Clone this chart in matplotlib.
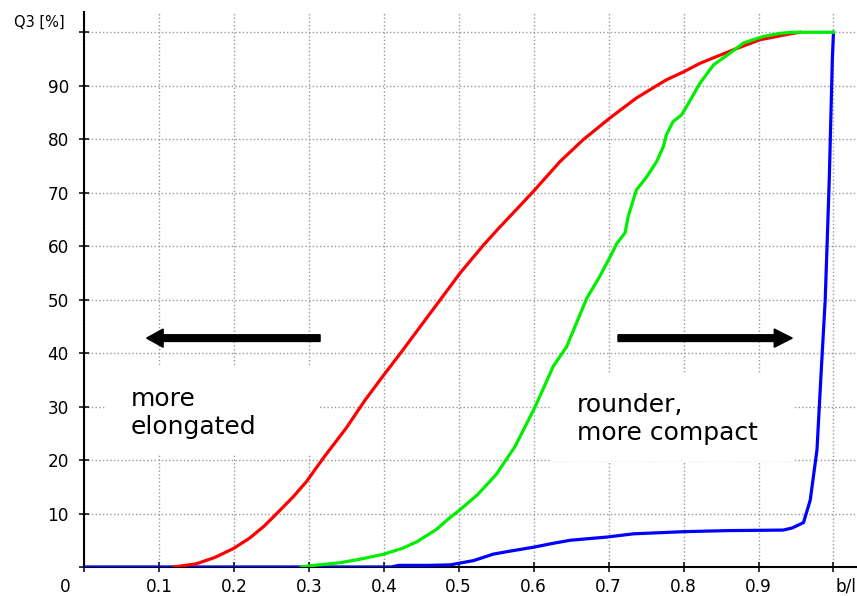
import matplotlib
matplotlib.use("Agg")
import matplotlib.pyplot as plt
from matplotlib.patches import Rectangle

plt.rcParams.update({
    "font.family": "DejaVu Sans",
    "font.size": 12.2,
    "axes.linewidth": 1.5,
})

# ── data (b/l ratio vs cumulative Q3 in %) ────────────────────────────────
RED_X = [0.12, 0.15, 0.175, 0.2, 0.221, 0.24, 0.253, 0.279, 0.297, 0.32, 0.35,
         0.375, 0.4, 0.424, 0.45, 0.475, 0.502, 0.533, 0.555, 0.58, 0.6, 0.635,
         0.666, 0.702, 0.737, 0.777, 0.8, 0.822, 0.866, 0.902, 0.942, 0.955]
RED_Y = [0.0, 0.6, 1.8, 3.5, 5.4, 7.6, 9.4, 13.1, 16.0, 20.5, 26.0,
         31.2, 35.9, 40.3, 45.2, 49.9, 55.0, 60.2, 63.6, 67.3, 70.3, 75.8,
         79.9, 84.0, 87.7, 91.1, 92.6, 94.2, 96.7, 98.6, 99.7, 100.0]

GREEN_X = [0.29, 0.30, 0.342, 0.37, 0.4, 0.425, 0.444, 0.47, 0.488, 0.5, 0.525,
           0.55, 0.575, 0.6, 0.606, 0.626, 0.644, 0.657, 0.671, 0.688, 0.702,
           0.711, 0.722, 0.726, 0.737, 0.751, 0.764, 0.773, 0.777, 0.786, 0.797,
           0.804, 0.822, 0.84, 0.862, 0.88, 0.906, 0.929, 0.945, 1.0]
GREEN_Y = [0.0, 0.2, 0.8, 1.5, 2.4, 3.5, 4.7, 7.0, 9.2, 10.5, 13.5,
           17.3, 22.5, 29.4, 31.2, 37.5, 41.2, 45.6, 50.3, 54.3, 58.0,
           60.5, 62.5, 65.5, 70.5, 73.0, 75.8, 78.6, 80.8, 83.3, 84.5,
           86.1, 90.5, 93.9, 96.1, 98.0, 99.2, 99.8, 100.0, 100.0]

BLUE_X = [0.0, 0.41, 0.42, 0.46, 0.489, 0.52, 0.546, 0.57, 0.6, 0.625, 0.649,
          0.698, 0.733, 0.8, 0.858, 0.933, 0.945, 0.96, 0.969, 0.978, 0.984,
          0.989, 0.992, 0.9945, 0.9985, 1.0]
BLUE_Y = [0.0, 0.0, 0.3, 0.3, 0.4, 1.2, 2.4, 3.0, 3.7, 4.4, 5.0,
          5.6, 6.2, 6.6, 6.8, 6.9, 7.3, 8.3, 12.5, 21.9, 37.5,
          50.0, 62.4, 73.0, 95.0, 100.0]

X_TICKS = [0.0, 0.1, 0.2, 0.3, 0.4, 0.5, 0.6, 0.7, 0.8, 0.9, 1.0]
X_LABELS = ["", "0.1", "0.2", "0.3", "0.4", "0.5", "0.6", "0.7", "0.8", "0.9", ""]
Y_TICKS = [0, 10, 20, 30, 40, 50, 60, 70, 80, 90, 100]
Y_LABELS = ["", "10", "20", "30", "40", "50", "60", "70", "80", "90", ""]

fig = plt.figure(figsize=(8.57, 5.96), dpi=100)
ax = fig.add_axes([0.098, 0.0487, 0.902, 0.9317])
ax.set_xlim(0, 1.0314)
ax.set_ylim(0, 103.85)

for side in ("top", "right"):
    ax.spines[side].set_visible(False)

ax.set_xticks(X_TICKS)
ax.set_xticklabels(X_LABELS)
ax.set_yticks(Y_TICKS)
ax.set_yticklabels(Y_LABELS)
ax.tick_params(axis="both", direction="inout", length=7.2, width=1.1)
ax.tick_params(axis="y", pad=7.2)
ax.tick_params(axis="x", pad=4.0)

ax.set_axisbelow(True)
ax.grid(True, color="#999999", linestyle=":", linewidth=1.0)

# white text boxes that hide the grid behind the annotations
ax.add_patch(Rectangle((0.0294, 20.95), 0.2841, 16.45, facecolor="white",
                       edgecolor="none", zorder=1))
ax.add_patch(Rectangle((0.6244, 19.8), 0.3216, 16.5, facecolor="white",
                       edgecolor="none", zorder=1))

ax.plot(BLUE_X, BLUE_Y, color="#0000ff", lw=2.3, zorder=3)
ax.plot(RED_X, RED_Y, color="#ff0000", lw=2.3, zorder=3)
ax.plot(GREEN_X, GREEN_Y, color="#00ee00", lw=2.3, zorder=3)

# direction arrows
ax.arrow(0.315, 42.8, 0.0836 - 0.315, 0, width=1.25, head_width=3.4,
         head_length=0.022, length_includes_head=True, color="black", zorder=4)
ax.arrow(0.7125, 42.8, 0.945 - 0.7125, 0, width=1.25, head_width=3.4,
         head_length=0.024, length_includes_head=True, color="black", zorder=4)

ax.text(0.0627, 33.7, "more\nelongated", fontsize=18, ha="left", va="top",
        linespacing=1.2, zorder=5)
ax.text(0.658, 32.5, "rounder,\nmore compact", fontsize=18, ha="left", va="top",
        linespacing=1.2, zorder=5)

# axis end labels
ax.annotate("0", xy=(0, 0), xytext=(-13.7, -7.6), textcoords="offset points",
            ha="center", va="top", fontsize=12.2, annotation_clip=False)
ax.annotate("b/l", xy=(1.0, 0), xytext=(9.0, -7.6), textcoords="offset points",
            ha="center", va="top", fontsize=12.2, annotation_clip=False)
fig.text(65 / 857, 1 - 22 / 596, "Q3 [%]", ha="right", va="center", fontsize=10.5)

fig.savefig("out.png", dpi=100)
